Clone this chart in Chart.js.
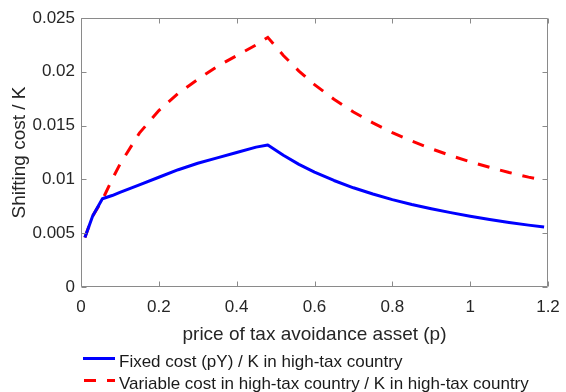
<!DOCTYPE html>
<html>
<head>
<meta charset="utf-8">
<script src="https://cdn.jsdelivr.net/npm/chart.js@4.4.1/dist/chart.umd.min.js"></script>
<style>
  html, body { margin: 0; padding: 0; background: #fff; }
  #wrap { position: relative; width: 566px; height: 392px; font-family: "Liberation Sans", Arial, sans-serif; }
  #chart { position: absolute; left: 0; top: 0; }
  .leg-text { position: absolute; left: 119px; font-size: 17px; line-height: 20px; color: #1a1a1a; white-space: nowrap; }
  .leg-line { position: absolute; height: 3px; }
</style>
</head>
<body>
<div id="wrap">
  <canvas id="chart" width="566" height="392"></canvas>
  <div class="leg-line" style="left:83px; top:357px; width:32px; background:#0000ff;"></div>
  <div class="leg-text" style="top:352px;">Fixed cost (pY) / K in high-tax country</div>
  <div class="leg-line" style="left:84px; top:379px; width:12px; background:#ff0000;"></div>
  <div class="leg-line" style="left:107px; top:379px; width:8px; background:#ff0000;"></div>
  <div class="leg-text" style="top:374px;">Variable cost in high-tax country / K in high-tax country</div>
</div>
<script>
// price of tax avoidance asset (p)
const prices = [0.01, 0.03, 0.055, 0.08, 0.1, 0.15, 0.2, 0.25, 0.3, 0.35, 0.4, 0.45, 0.48,
                0.52, 0.56, 0.6, 0.65, 0.7, 0.75, 0.8, 0.85, 0.9, 0.95, 1.0, 1.05, 1.1, 1.15, 1.19];

// Fixed cost (pY) / K in high-tax country
const fixedCost = [0.0046, 0.0066, 0.0082, 0.0085, 0.0088, 0.0095, 0.0102, 0.0109, 0.0115, 0.0120, 0.0125, 0.0130, 0.0132,
                   0.01224, 0.0114, 0.01068, 0.0099, 0.00922, 0.00864, 0.00812, 0.00767, 0.00727, 0.00691, 0.00658, 0.00627, 0.0060, 0.00575, 0.00558];

// Variable cost in high-tax country / K in high-tax country
const variableCost = [0.0046, 0.0066, 0.0081, 0.0100, 0.0114, 0.0143, 0.0164, 0.0180, 0.0193, 0.0205, 0.0215, 0.0225, 0.0232,
                      0.02152, 0.02007, 0.01881, 0.01745, 0.01627, 0.01525, 0.01435, 0.01356, 0.01285, 0.01221, 0.01164, 0.01112, 0.01064, 0.01021, 0.00990];

const xTicks = [0, 0.2, 0.4, 0.6, 0.8, 1, 1.2];
const xTickLabels = ['0', '0.2', '0.4', '0.6', '0.8', '1', '1.2'];
const yTicks = [0, 0.005, 0.01, 0.015, 0.02, 0.025];
const yTickLabels = ['0', '0.005', '0.01', '0.015', '0.02', '0.025'];

const axisColor = '#8a8a8a';
const textColor = '#262626';

// matlab style box with inward ticks on all sides
const boxTicks = {
    id: 'boxTicks',
    afterDatasetsDraw: function(chart) {
        const c = chart.ctx;
        const a = chart.chartArea;
        const xs = chart.scales.x, ys = chart.scales.y;
        const len = 5;
        const l = Math.round(a.left) + 0.5, r = Math.round(a.right) - 0.5;
        const t = Math.round(a.top) + 0.5, b = Math.round(a.bottom) - 0.5;
        c.save();
        c.strokeStyle = axisColor;
        c.lineWidth = 1;
        c.setLineDash([]);
        c.beginPath();
        c.moveTo(l, t); c.lineTo(r, t); c.lineTo(r, b); c.lineTo(l, b); c.closePath();
        xTicks.forEach(v => {
            const px = Math.round(xs.getPixelForValue(v)) + 0.5;
            c.moveTo(px, b); c.lineTo(px, b - len);
            c.moveTo(px, t); c.lineTo(px, t + len);
        });
        yTicks.forEach(v => {
            const py = Math.round(ys.getPixelForValue(v)) + 0.5;
            c.moveTo(l, py); c.lineTo(l + len, py);
            c.moveTo(r, py); c.lineTo(r - len, py);
        });
        c.stroke();
        c.restore();
    }
};

const ctx = document.getElementById('chart').getContext('2d');
new Chart(ctx, {
    type: 'line',
    data: {
        datasets: [{
            label: 'Fixed cost (pY) / K in high-tax country',
            data: prices.map((p, i) => ({ x: p, y: fixedCost[i] })),
            borderColor: '#0000ff',
            borderWidth: 3,
            pointRadius: 0,
            tension: 0,
            borderJoinStyle: 'round'
        }, {
            label: 'Variable cost in high-tax country / K in high-tax country',
            data: prices.map((p, i) => ({ x: p, y: variableCost[i] })),
            borderColor: '#ff0000',
            borderWidth: 3,
            borderDash: [12, 11],
            pointRadius: 0,
            tension: 0
        }]
    },
    options: {
        responsive: false,
        animation: false,
        layout: { padding: { left: 8, right: 18, top: 18, bottom: 46 } },
        plugins: { legend: { display: false }, tooltip: { enabled: false } },
        scales: {
            x: {
                type: 'linear',
                min: 0,
                max: 1.2,
                afterBuildTicks: scale => { scale.ticks = xTicks.map(v => ({ value: v })); },
                afterFit: scale => {
                    scale.height = 59;
                    scale.paddingLeft = 0;
                    scale.paddingRight = 0;
                },
                ticks: {
                    padding: 10,
                    color: textColor,
                    font: { family: 'Liberation Sans', size: 17 },
                    callback: (v, i) => xTickLabels[i]
                },
                grid: { display: false, drawTicks: false },
                border: { display: false },
                title: {
                    display: true,
                    text: 'price of tax avoidance asset (p)',
                    color: textColor,
                    font: { family: 'Liberation Sans', size: 19 },
                    padding: 0
                }
            },
            y: {
                type: 'linear',
                min: 0,
                max: 0.025,
                afterBuildTicks: scale => { scale.ticks = yTicks.map(v => ({ value: v })); },
                afterFit: scale => { scale.width = 73; },
                ticks: {
                    padding: 6,
                    color: textColor,
                    font: { family: 'Liberation Sans', size: 17 },
                    callback: (v, i) => yTickLabels[i]
                },
                grid: { display: false, drawTicks: false },
                border: { display: false },
                title: {
                    display: true,
                    text: 'Shifting cost / K',
                    color: textColor,
                    font: { family: 'Liberation Sans', size: 19 },
                    padding: 0
                }
            }
        }
    },
    plugins: [boxTicks]
});
</script>
</body>
</html>
